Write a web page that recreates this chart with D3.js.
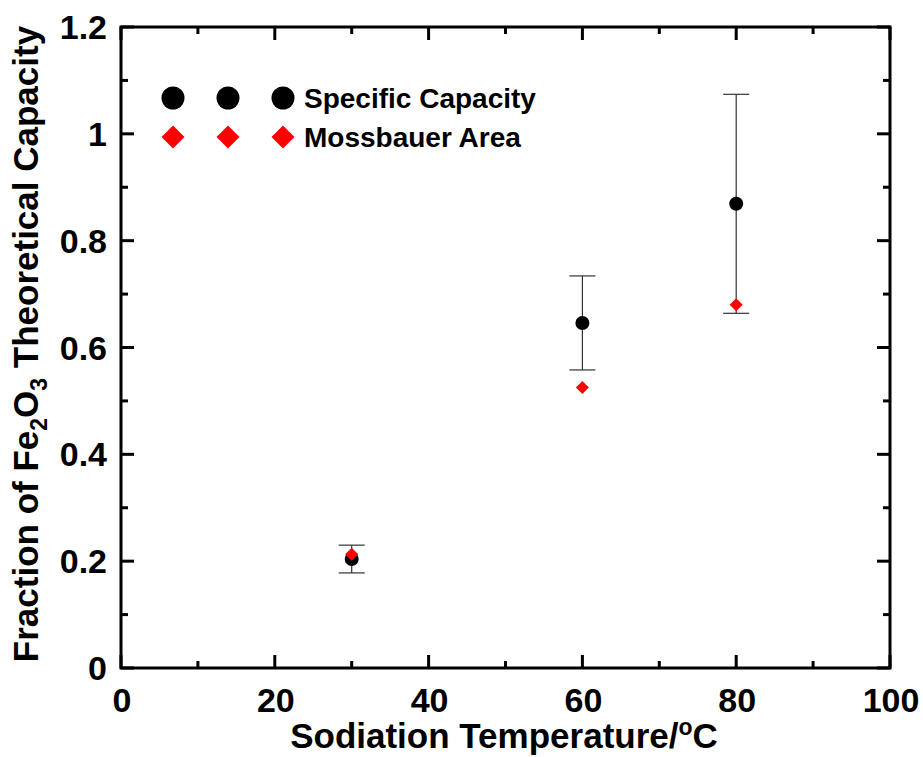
<!DOCTYPE html>
<html><head><meta charset="utf-8">
<script src="https://cdn.jsdelivr.net/npm/d3@7"></script>
<style>body{margin:0;background:#fff}svg{display:block}text{font-family:"Liberation Sans",Arial,sans-serif;font-weight:bold}</style>
</head><body>
<svg id="c" width="923" height="757"></svg>
<script>
const temps = [30, 60, 80];
const specificCapacity = [0.204, 0.646, 0.869];
const capacityError = [0.026, 0.088, 0.205];
const mossbauerArea = [0.213, 0.525, 0.680];
const xTicks = [0, 20, 40, 60, 80, 100];
const yTicks = [0, 0.2, 0.4, 0.6, 0.8, 1.0, 1.2];
const legendLabels = ["Specific Capacity", "Mossbauer Area"];

const svg = d3.select("#c");
const L = 121, R = 890, T = 27, B = 668;
const x = d3.scaleLinear().domain([0, 100]).range([L, R]);
const y = d3.scaleLinear().domain([0, 1.2]).range([B, T]);
const fmt = d => d === 0 ? "0" : (d === 1 ? "1" : d3.format(".1f")(d));

// frame
svg.append("rect").attr("x", L).attr("y", T).attr("width", R - L).attr("height", B - T)
  .attr("fill", "none").attr("stroke", "#000").attr("stroke-width", 3);

// ticks (inward, all four sides)
const xMinor = d3.range(10, 100, 20);
const yMinor = d3.range(0.1, 1.2, 0.2);
const tk = svg.append("g").attr("stroke", "#000").attr("stroke-width", 3);
xTicks.forEach(v => { tk.append("line").attr("x1", x(v)).attr("x2", x(v)).attr("y1", B).attr("y2", B - 13);
  tk.append("line").attr("x1", x(v)).attr("x2", x(v)).attr("y1", T).attr("y2", T + 13); });
xMinor.forEach(v => { tk.append("line").attr("x1", x(v)).attr("x2", x(v)).attr("y1", B).attr("y2", B - 7);
  tk.append("line").attr("x1", x(v)).attr("x2", x(v)).attr("y1", T).attr("y2", T + 7); });
yTicks.forEach(v => { tk.append("line").attr("y1", y(v)).attr("y2", y(v)).attr("x1", L).attr("x2", L + 13);
  tk.append("line").attr("y1", y(v)).attr("y2", y(v)).attr("x1", R).attr("x2", R - 13); });
yMinor.forEach(v => { tk.append("line").attr("y1", y(v)).attr("y2", y(v)).attr("x1", L).attr("x2", L + 7);
  tk.append("line").attr("y1", y(v)).attr("y2", y(v)).attr("x1", R).attr("x2", R - 7); });

// tick labels
svg.append("g").selectAll("text").data(xTicks).join("text")
  .attr("x", d => x(d) + 1).attr("y", 712).attr("text-anchor", "middle")
  .attr("font-size", 34).text(d => d);
svg.append("g").selectAll("text").data(yTicks).join("text")
  .attr("x", 107).attr("y", d => y(d) + 12).attr("text-anchor", "end")
  .attr("font-size", 34).text(fmt);

// axis titles
const xt = svg.append("text").attr("x", 504).attr("y", 748).attr("text-anchor", "middle").attr("font-size", 35);
xt.append("tspan").text("Sodiation Temperature/");
xt.append("tspan").attr("font-size", 23).attr("dy", -13).text("o");
xt.append("tspan").attr("dy", 13).text("C");

const yt = svg.append("text").attr("transform", "translate(38,344) rotate(-90)")
  .attr("text-anchor", "middle").attr("font-size", 35);
yt.append("tspan").text("Fraction of Fe");
yt.append("tspan").attr("font-size", 23).attr("dy", 9).text("2");
yt.append("tspan").attr("dy", -9).text("O");
yt.append("tspan").attr("font-size", 23).attr("dy", 9).text("3");
yt.append("tspan").attr("dy", -9).text(" Theoretical Capacity");

// error bars
const eb = svg.append("g").attr("stroke", "#333").attr("stroke-width", 1.2);
temps.forEach((t, i) => {
  const lo = specificCapacity[i] - capacityError[i], hi = specificCapacity[i] + capacityError[i];
  eb.append("line").attr("x1", x(t)).attr("x2", x(t)).attr("y1", y(lo)).attr("y2", y(hi));
  eb.append("line").attr("x1", x(t) - 13).attr("x2", x(t) + 13).attr("y1", y(lo)).attr("y2", y(lo));
  eb.append("line").attr("x1", x(t) - 13).attr("x2", x(t) + 13).attr("y1", y(hi)).attr("y2", y(hi));
});

const diamond = (cx, cy, r) => `M${cx},${cy - r}L${cx + r},${cy}L${cx},${cy + r}L${cx - r},${cy}Z`;

// points
svg.append("g").selectAll("circle").data(temps).join("circle")
  .attr("cx", d => x(d)).attr("cy", (d, i) => y(specificCapacity[i])).attr("r", 7).attr("fill", "#000");
svg.append("g").selectAll("path").data(temps).join("path")
  .attr("d", (d, i) => diamond(x(d), y(mossbauerArea[i]), 6.5)).attr("fill", "#ff0000");

// legend
const lx = [173, 228, 283];
lx.forEach(px => {
  svg.append("circle").attr("cx", px).attr("cy", 98).attr("r", 11.5).attr("fill", "#000");
  svg.append("path").attr("d", diamond(px, 137, 11.5)).attr("fill", "#ff0000");
});
svg.append("text").attr("x", 304).attr("y", 108).attr("font-size", 28).text(legendLabels[0]);
svg.append("text").attr("x", 304).attr("y", 147).attr("font-size", 28).text(legendLabels[1]);
</script>
</body></html>
